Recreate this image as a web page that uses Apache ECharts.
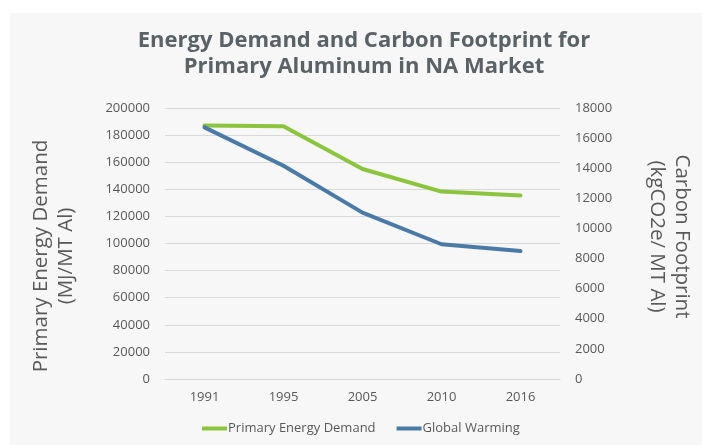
<!DOCTYPE html>
<html>
<head>
<meta charset="utf-8">
<script src="https://cdn.jsdelivr.net/npm/echarts@6/dist/echarts.min.js"></script>
<style>
html,body{margin:0;padding:0;background:#ffffff;}
#chart{width:702px;height:445px;}
</style>
</head>
<body>
<div id="chart"></div>
<script>
const categories = ['1991', '1995', '2005', '2010', '2016'];
const energyDemand = [187000, 186500, 155000, 138300, 135500];
const globalWarming = [16710, 14160, 11050, 8950, 8500];
const leftTicks = {min: 0, max: 200000, interval: 20000};
const rightTicks = {min: 0, max: 18000, interval: 2000};

const chart = echarts.init(document.getElementById('chart'), null, {renderer: 'canvas'});
const FONT = '"Open Sans", "Noto Sans", sans-serif';
const TXT = '#595959';

chart.setOption({
  backgroundColor: '#ffffff',
  animation: false,
  graphic: [{
    type: 'rect', left: 10, top: 13, z: -10,
    shape: {width: 692, height: 432},
    style: {fill: '#f7f7f7'}
  }],
  title: {
    text: 'Energy Demand and Carbon Footprint for\nPrimary Aluminum in NA Market',
    left: 359, top: 23, textAlign: 'center',
    textStyle: {fontFamily: FONT, fontWeight: 'bold', fontSize: 22, color: '#5b6266', lineHeight: 26}
  },
  grid: {left: 165, right: 137, top: 108, bottom: 66, containLabel: false},
  legend: {
    left: 197, top: 417,
    itemWidth: 25, itemHeight: 4, itemGap: 21, icon: 'rect',
    textStyle: {fontFamily: FONT, fontSize: 13, color: TXT, padding: [0, 0, 0, -4]},
    data: ['Primary Energy Demand', 'Global Warming']
  },
  xAxis: {
    type: 'category', data: categories, boundaryGap: true,
    axisLine: {show: true, lineStyle: {color: '#d9d9d9', width: 1}},
    axisTick: {show: false},
    axisLabel: {fontFamily: FONT, fontSize: 13, color: TXT, margin: 12}
  },
  yAxis: [{
    type: 'value', position: 'left',
    min: leftTicks.min, max: leftTicks.max, interval: leftTicks.interval,
    name: 'Primary Energy Demand\n(MJ/MT Al)', nameLocation: 'middle', nameGap: 86, nameRotate: 90,
    nameTextStyle: {fontFamily: FONT, fontSize: 20.5, color: TXT, lineHeight: 25, padding: [0, 25, 0, 0]},
    axisLine: {show: false}, axisTick: {show: false},
    axisLabel: {fontFamily: FONT, fontSize: 13, color: TXT, margin: 15, formatter: v => String(v)},
    splitLine: {lineStyle: {color: '#d9d9d9', width: 1}}
  }, {
    type: 'value', position: 'right',
    min: rightTicks.min, max: rightTicks.max, interval: rightTicks.interval,
    name: 'Carbon Footprint\n(kgCO2e/ MT Al)', nameLocation: 'middle', nameGap: 84, nameRotate: -90,
    nameTextStyle: {fontFamily: FONT, fontSize: 20.5, color: TXT, lineHeight: 25, padding: [0, 14, 0, 0]},
    axisLine: {show: false}, axisTick: {show: false},
    axisLabel: {fontFamily: FONT, fontSize: 13, color: TXT, margin: 15, formatter: v => String(v)},
    splitLine: {show: false}
  }],
  series: [{
    name: 'Primary Energy Demand', type: 'line', yAxisIndex: 0,
    data: energyDemand, symbol: 'none',
    lineStyle: {color: '#8bc53f', width: 4, cap: 'round', join: 'round'},
    itemStyle: {color: '#8bc53f'}
  }, {
    name: 'Global Warming', type: 'line', yAxisIndex: 1,
    data: globalWarming, symbol: 'none',
    lineStyle: {color: '#4a7aa5', width: 4, cap: 'round', join: 'round'},
    itemStyle: {color: '#4a7aa5'}
  }]
});
</script>
</body>
</html>
